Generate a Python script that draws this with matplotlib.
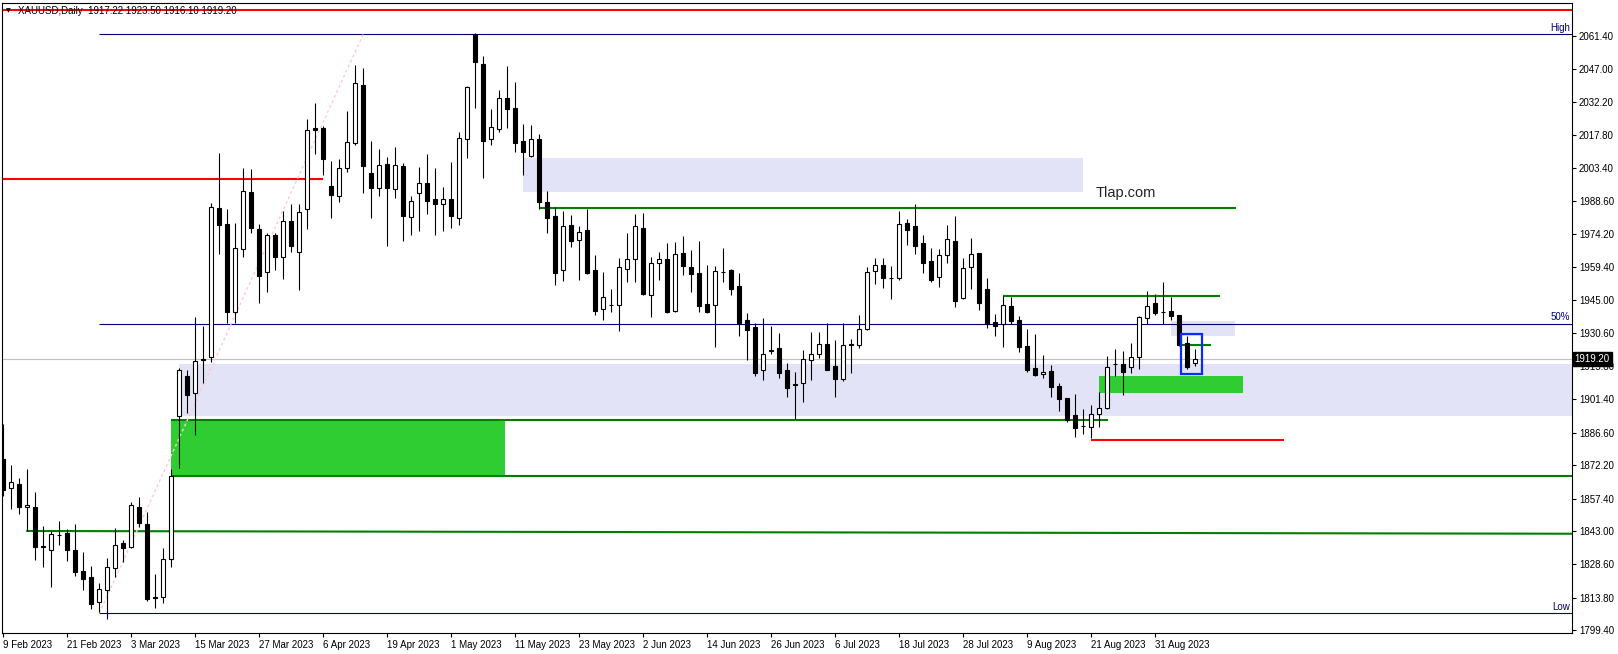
import numpy as np
import matplotlib
matplotlib.use("Agg")
import matplotlib.pyplot as plt
from matplotlib.patches import Rectangle

plt.rcParams['font.family'] = ['Liberation Sans', 'DejaVu Sans']

# daily XAUUSD bars, 9 Feb 2023 .. 7 Sep 2023
opens = [
    1874.8, 1862.0, 1863.9, 1853.6, 1853.8, 1836.6, 1835.0, 1841.3, 1842.3, 1834.8,
    1825.5, 1822.9, 1812.1, 1817.4, 1826.7, 1837.8, 1836.0, 1853.6, 1846.3, 1814.1,
    1814.3, 1830.7, 1893.7, 1911.5, 1903.9, 1919.1, 1919.8, 1985.6, 1978.5, 1939.6,
    1967.4, 1992.6, 1976.3, 1957.2, 1973.7, 1963.8, 1979.7, 1966.0, 1985.0, 2020.8,
    2020.8, 1995.3, 1990.7, 2003.1, 2014.1, 2039.8, 2001.0, 1994.3, 2004.8, 1993.8,
    2004.1, 1981.7, 1992.1, 1996.5, 1989.5, 1987.2, 1989.5, 1981.3, 2015.9, 2062.1,
    2049.0, 2015.9, 2020.3, 2034.1, 2029.7, 2015.1, 2008.4, 2016.0, 1988.2, 1982.0,
    1958.1, 1977.9, 1971.3, 1975.7, 1958.2, 1940.9, 1942.7, 1942.7, 1958.5, 1962.9,
    1976.6, 1947.1, 1961.2, 1962.9, 1940.0, 1965.6, 1959.4, 1956.8, 1943.1, 1942.9,
    1957.2, 1958.2, 1951.0, 1936.1, 1933.1, 1914.0, 1922.7, 1923.7, 1914.2, 1907.8,
    1908.3, 1918.4, 1921.2, 1925.6, 1915.9, 1910.3, 1925.2, 1925.0, 1932.1, 1957.7,
    1960.4, 1954.6, 1954.6, 1979.0, 1977.5, 1970.0, 1962.2, 1955.0, 1964.7, 1971.0,
    1946.0, 1959.4, 1965.7, 1949.9, 1935.3, 1934.4, 1942.4, 1936.2, 1924.7, 1915.0,
    1912.3, 1913.7, 1907.1, 1901.7, 1894.3, 1889.3, 1889.2, 1894.6, 1897.5, 1916.7,
    1916.7, 1915.3, 1920.0, 1937.0, 1943.7, 1939.6, 1940.2, 1938.4, 1926.1, 1917.22]
highs = [
    1890.2, 1872.3, 1866.4, 1870.5, 1860.2, 1845.4, 1843.3, 1847.6, 1843.9, 1846.3,
    1833.8, 1827.7, 1820.4, 1831.1, 1844.4, 1839.2, 1856.1, 1858.2, 1851.4, 1824.2,
    1835.5, 1870.4, 1914.9, 1914.2, 1937.6, 1933.7, 1987.6, 2009.8, 1985.1, 1979.0,
    2003.3, 2002.8, 1978.5, 1974.7, 1974.4, 1984.2, 1987.3, 1987.3, 2024.7, 2032.0,
    2021.7, 2006.3, 2007.2, 2028.3, 2048.6, 2047.4, 2015.1, 2011.6, 2008.1, 2012.5,
    2005.4, 1990.9, 2003.6, 2009.4, 2003.2, 1994.7, 2006.0, 2019.0, 2039.4, 2062.7,
    2052.6, 2029.2, 2037.6, 2048.2, 2041.1, 2022.6, 2022.2, 2018.3, 1993.1, 1986.0,
    1984.2, 1982.5, 1977.6, 1985.1, 1964.8, 1957.4, 1949.9, 1963.5, 1974.5, 1983.0,
    1983.4, 1963.8, 1966.2, 1970.1, 1970.6, 1973.2, 1967.1, 1971.0, 1960.4, 1959.9,
    1967.9, 1958.7, 1956.9, 1939.1, 1934.7, 1937.2, 1933.7, 1930.5, 1917.1, 1913.4,
    1923.0, 1930.9, 1930.9, 1934.9, 1927.4, 1934.9, 1928.0, 1938.4, 1959.6, 1963.5,
    1963.5, 1959.9, 1984.2, 1980.7, 1987.3, 1973.7, 1968.1, 1967.5, 1978.1, 1982.0,
    1963.4, 1972.3, 1965.9, 1954.6, 1938.7, 1946.8, 1946.5, 1938.1, 1932.2, 1930.0,
    1920.8, 1916.4, 1908.3, 1901.9, 1903.6, 1897.0, 1898.6, 1904.5, 1920.2, 1923.4,
    1922.5, 1926.1, 1938.1, 1949.0, 1947.7, 1953.0, 1946.5, 1938.6, 1929.0, 1923.50]
lows = [
    1858.7, 1852.7, 1850.5, 1843.2, 1830.4, 1827.4, 1818.6, 1837.0, 1830.1, 1823.3,
    1817.2, 1808.8, 1807.3, 1804.4, 1823.0, 1829.6, 1835.8, 1845.1, 1812.4, 1809.4,
    1811.6, 1827.4, 1871.1, 1895.3, 1885.5, 1908.3, 1917.8, 1965.3, 1935.0, 1934.7,
    1964.1, 1974.7, 1943.8, 1948.7, 1958.2, 1954.4, 1966.3, 1949.4, 1976.4, 2009.5,
    2000.1, 1981.3, 1988.4, 2001.3, 2013.3, 1992.0, 1981.0, 1991.0, 1968.9, 1990.1,
    1971.2, 1973.7, 1975.6, 1982.9, 1973.7, 1975.6, 1976.9, 1978.1, 2007.7, 2029.8,
    1998.9, 2013.3, 2019.2, 2021.0, 2010.4, 2000.1, 2008.2, 1985.1, 1974.7, 1951.6,
    1953.5, 1968.5, 1954.0, 1956.3, 1938.4, 1936.2, 1939.9, 1931.5, 1953.1, 1953.1,
    1947.3, 1937.6, 1954.0, 1939.4, 1939.8, 1956.0, 1948.7, 1939.9, 1939.4, 1924.4,
    1953.1, 1947.3, 1929.3, 1918.7, 1911.6, 1909.7, 1921.4, 1910.8, 1902.4, 1892.4,
    1900.2, 1909.7, 1919.6, 1914.1, 1902.4, 1909.3, 1912.7, 1924.0, 1931.9, 1952.2,
    1950.4, 1945.6, 1954.0, 1969.4, 1965.2, 1956.8, 1953.1, 1950.9, 1961.5, 1942.1,
    1945.3, 1949.7, 1940.6, 1932.5, 1929.3, 1924.4, 1934.4, 1922.2, 1913.4, 1911.5,
    1910.5, 1902.4, 1896.1, 1891.4, 1884.7, 1885.8, 1884.3, 1889.2, 1897.1, 1911.6,
    1903.3, 1912.7, 1914.5, 1934.4, 1938.4, 1934.4, 1936.2, 1924.7, 1914.7, 1916.10]
closes = [
    1861.2, 1864.9, 1853.9, 1854.5, 1836.0, 1836.3, 1841.7, 1841.3, 1834.8, 1825.2,
    1822.1, 1811.1, 1817.5, 1827.2, 1836.9, 1835.9, 1854.5, 1846.8, 1813.2, 1813.5,
    1830.7, 1867.3, 1914.0, 1903.3, 1918.0, 1918.7, 1985.9, 1978.2, 1939.9, 1967.8,
    1992.9, 1976.9, 1955.7, 1973.6, 1964.1, 1979.7, 1968.9, 1983.7, 2019.8, 2019.8,
    2007.0, 1991.2, 2003.1, 2014.5, 2040.5, 2004.2, 1994.5, 2004.4, 1994.5, 2004.4,
    1982.2, 1988.5, 1996.5, 1988.8, 1987.5, 1989.5, 1982.2, 2016.3, 2038.9, 2050.1,
    2015.1, 2021.2, 2034.1, 2029.4, 2014.4, 2010.4, 2015.9, 1988.4, 1981.3, 1957.0,
    1977.5, 1971.2, 1974.9, 1957.0, 1940.3, 1946.2, 1942.7, 1959.4, 1962.9, 1977.5,
    1947.8, 1961.2, 1962.9, 1939.7, 1965.2, 1960.1, 1956.6, 1942.5, 1939.9, 1957.7,
    1957.2, 1950.0, 1935.0, 1931.9, 1913.0, 1921.2, 1922.7, 1913.0, 1906.3, 1907.4,
    1918.9, 1921.2, 1925.6, 1914.3, 1910.3, 1925.2, 1925.2, 1932.1, 1957.2, 1960.3,
    1954.8, 1954.6, 1978.4, 1976.0, 1968.9, 1961.5, 1954.0, 1964.7, 1971.8, 1944.4,
    1959.0, 1965.3, 1943.8, 1934.4, 1933.7, 1942.7, 1935.9, 1924.4, 1914.2, 1911.9,
    1913.4, 1906.8, 1901.4, 1892.1, 1888.7, 1889.3, 1894.6, 1897.3, 1915.3, 1916.7,
    1913.4, 1919.7, 1937.4, 1942.2, 1939.4, 1939.6, 1938.1, 1925.2, 1915.6, 1919.20]

date_labels = ['9 Feb 2023', '21 Feb 2023', '3 Mar 2023', '15 Mar 2023', '27 Mar 2023',
               '6 Apr 2023', '19 Apr 2023', '1 May 2023', '11 May 2023', '23 May 2023',
               '2 Jun 2023', '14 Jun 2023', '26 Jun 2023', '6 Jul 2023', '18 Jul 2023',
               '28 Jul 2023', '9 Aug 2023', '21 Aug 2023', '31 Aug 2023']
price_ticks = [2061.40, 2047.00, 2032.20, 2017.80, 2003.40, 1988.60, 1974.20, 1959.40,
               1945.00, 1930.60, 1915.80, 1901.40, 1886.60, 1872.20, 1857.40, 1843.00,
               1828.60, 1813.80, 1799.40]

# levels drawn on the chart
top_red = 2072.9
left_red = 1998.2
fib_high, fib_low = 2062.3, 1806.9
supply_top, supply_bot = 2007.6, 1992.8
res_green = 1985.7
zone_top, zone_bot = 1916.8, 1894.0
demand_top, demand_bot = 1892.1, 1867.4
sup_green = 1892.3
low_green = 1867.5
trend_start, trend_end = 1843.2, 1842.0
swing_green = 1946.7
small_top, small_bot = 1935.8, 1929.3
mini_green = 1925.3
blue_top, blue_bot = 1930.2, 1912.4
ob_top, ob_bot = 1911.5, 1904.2
low_red = 1883.4
last_price = 1919.20

W, H = 1618, 654
fig = plt.figure(figsize=(W / 100, H / 100), dpi=100)
ax = fig.add_axes([2.3 / W, (H - 633.3) / H, (1572 - 2.3) / W, (633.3 - 2.5) / H])
x0, x1 = -0.125, 196.09
ax.set_xlim(x0, x1)
ax.set_ylim(1798.1, 2076.2)

lav = '#E3E3F8'
lime = '#30CD32'
dgreen = '#008000'
navy = '#000080'
fs = 7.0

# zones
ax.add_patch(Rectangle((64.96, supply_bot), 70, supply_top - supply_bot, fc=lav, ec='none', zorder=1))
ax.add_patch(Rectangle((21.96, zone_bot), x1 - 21.96, zone_top - zone_bot, fc=lav, ec='none', zorder=1))
ax.add_patch(Rectangle((21.0, demand_bot), 41.7, demand_top - demand_bot, fc=lime, ec='none', zorder=1))
ax.add_patch(Rectangle((146.0, small_bot), 8.0, small_top - small_bot, fc=lav, ec='none', zorder=1))
ax.add_patch(Rectangle((136.97, ob_bot), 18.0, ob_top - ob_bot, fc=lime, ec='none', zorder=1))

# horizontal levels
ax.hlines(top_red, x0, x1, color='red', lw=1.5, zorder=2)
ax.hlines(left_red, x0, 40.0, color='red', lw=1.5, zorder=2)
ax.hlines(low_red, 135.96, 160.1, color='red', lw=1.5, zorder=2)
ax.hlines(res_green, 67.0, 154.1, color=dgreen, lw=1.5, zorder=2)
ax.hlines(sup_green, 21.0, 138.05, color=dgreen, lw=1.5, zorder=2)
ax.hlines(low_green, 21.0, x1, color=dgreen, lw=1.5, zorder=2)
ax.hlines(swing_green, 125.0, 152.1, color=dgreen, lw=1.5, zorder=2)
ax.hlines(mini_green, 147.1, 151.0, color=dgreen, lw=1.5, zorder=2)
ax.plot([3.0, x1], [trend_start, trend_end], color=dgreen, lw=1.5, zorder=2)
ax.hlines(last_price, x0, x1, color='#C0C0C0', lw=0.8, zorder=2)

# fibonacci
fib_mid = (fib_high + fib_low) / 2
for lvl, name in [(fib_high, 'High'), (fib_mid, '50%'), (fib_low, 'Low')]:
    ax.hlines(lvl, 12.0, x1, color=navy, lw=0.8, zorder=2)
    ax.text(x1 - 0.2, lvl + 0.6, name, color=navy, fontsize=fs, ha='right', va='bottom', zorder=6)
ax.plot([12.0, 45.0], [fib_low, fib_high], color='#FFC8CF', lw=1.0, ls=(0, (2, 2)), zorder=2)

# candles
o = np.array(opens)
c = np.array(closes)
hi = np.array(highs)
lo = np.array(lows)
xs = np.arange(len(o))
ax.vlines(xs, lo, hi, color='black', lw=0.8, zorder=3)
bull = c >= o
faces = np.where(bull, 'white', 'black')
bottom = np.minimum(o, c)
height = np.maximum(np.abs(c - o), 0.25)
ax.bar(xs, height, bottom=bottom, width=0.5, color=faces, edgecolor='black', linewidth=0.8, zorder=4)

ax.add_patch(Rectangle((147.17, blue_bot), 2.73, blue_top - blue_bot, fill=False,
                       ec='#0A2BFF', lw=1.6, zorder=5))

ax.text(136.5, 1990.6, 'Tlap.com', fontsize=10.5, color='#222222', ha='left', va='baseline', zorder=6)

# axes styling
for sp in ax.spines.values():
    sp.set_color('black')
    sp.set_linewidth(0.8)
ax.yaxis.set_ticks_position('right')
ax.set_yticks(price_ticks)
ax.set_yticklabels(['%.2f' % p for p in price_ticks])
ax.tick_params(axis='y', direction='out', length=3, width=0.8, pad=2, labelsize=fs,
               right=True, left=False, labelright=True, labelleft=False)
ax.set_xticks(np.arange(0, 8 * len(date_labels), 8))
ax.set_xticklabels(date_labels, ha='left')
ax.tick_params(axis='x', direction='out', length=3, width=0.8, pad=2, labelsize=fs)

ax.text(1.0 + 2.5 / 1570, last_price, '%.2f' % last_price, transform=ax.get_yaxis_transform(),
        color='white', fontsize=fs, ha='left', va='center', zorder=10, clip_on=False,
        bbox=dict(boxstyle='square,pad=0.2', fc='black', ec='black'))

fig.text(18 / W, 1 - 11 / H, 'XAUUSD,Daily  1917.22 1923.50 1916.10 1919.20',
         fontsize=fs, color='black', va='center', ha='left', zorder=10)
fig.text(6 / W, 1 - 11 / H, '\u25bc', fontsize=4.5, color='black', va='center', ha='left',
         family=['DejaVu Sans'])

fig.savefig('out.png', dpi=100)
